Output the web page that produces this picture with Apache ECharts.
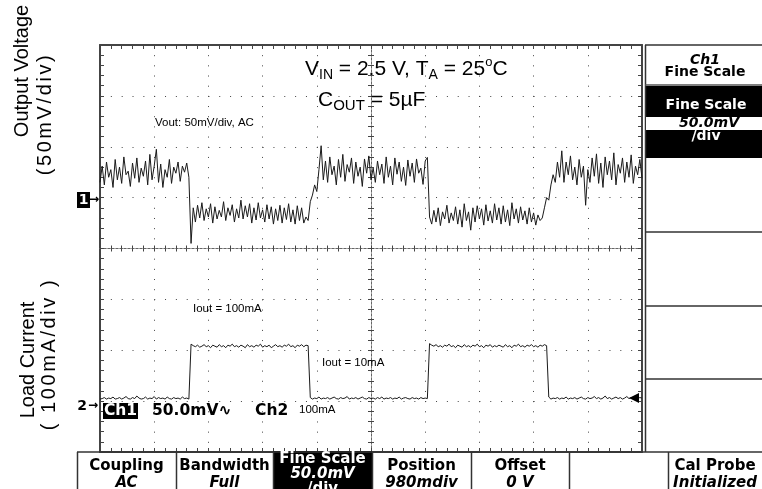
<!DOCTYPE html>
<html><head><meta charset="utf-8">
<script src="https://cdn.jsdelivr.net/npm/echarts@6/dist/echarts.min.js"></script>
<style>html,body{margin:0;padding:0;background:#fff}#c{width:762px;height:489px}</style>
</head><body><div id="c"></div><script>
// Oscilloscope screen: 10 horizontal divisions, 8 vertical divisions (centre = 0 div)
const TIME_STEP_DIV = 0.04;   // sample spacing, in horizontal divisions
const X_DIVS = [0, 10];
const Y_DIVS = [-4, 4];

// Channel 1: output voltage (AC coupled, 50 mV/div), in divisions
const voltageTrace = [
  1.30,1.62,1.25,1.70,1.40,1.55,1.20,1.75,1.35,1.60,
  1.28,1.80,1.45,1.52,1.22,1.68,1.38,1.78,1.30,1.58,
  1.42,1.72,1.25,1.85,1.35,1.62,1.95,1.30,1.66,1.20,
  1.55,1.40,1.75,1.28,1.60,1.48,1.70,1.32,1.62,1.50,
  1.68,1.40,
  0.10,
  0.80,0.52,0.85,0.60,0.90,0.55,0.78,0.62,0.88,0.50,
  0.82,0.58,0.75,0.62,0.92,0.55,0.80,0.65,0.86,0.52,
  0.78,0.60,0.95,0.58,0.84,0.62,0.88,0.50,0.80,0.56,
  0.90,0.60,0.76,0.52,0.86,0.58,0.82,0.48,0.78,0.55,
  0.85,0.50,0.80,0.57,0.88,0.52,0.76,0.48,0.84,0.55,
  0.80,0.50,0.62,0.55,
  0.92,1.05,1.25,1.12,1.55,2.02,
  1.35,1.72,1.30,1.80,1.45,1.62,1.25,1.75,1.40,1.85,
  1.32,1.65,1.50,1.78,1.28,1.70,1.42,1.60,1.22,1.76,
  1.48,1.82,1.35,1.58,1.30,1.72,1.45,1.66,1.28,1.80,
  1.40,1.62,1.25,1.78,1.46,1.70,1.32,1.60,1.24,1.74,
  1.42,1.68,1.30,1.76,1.48,1.58,1.26,1.72,1.79,
  0.62,
  0.48,0.75,0.52,0.80,0.45,0.72,0.58,0.85,0.50,0.70,
  0.55,0.82,0.48,0.76,0.42,0.88,0.55,0.72,0.36,0.80,
  0.52,0.84,0.58,0.78,0.46,0.86,0.54,0.74,0.50,0.88,
  0.56,0.80,0.48,0.84,0.52,0.76,0.45,0.90,0.58,0.78,
  0.50,0.82,0.56,0.74,0.48,0.80,0.52,0.70,0.46,0.66,
  0.55,0.60,
  0.80,1.00,0.95,1.25,1.45,1.30,1.70,1.40,1.92,
  1.30,1.70,1.45,1.82,1.35,1.60,1.25,1.75,1.40,1.62,
  0.85,1.55,1.30,1.78,1.42,1.86,1.28,1.68,1.20,1.80,
  1.45,1.72,1.35,1.88,1.25,1.65,1.48,1.78,1.30,1.70,
  1.40,1.84,1.28,1.62,1.45,1.75,1.38
];

// Channel 2: load current (100 mA/div), in divisions
const currentTrace = [
  -2.96,-2.95,-2.93,-2.96,-2.94,-2.95,-2.92,-2.96,-2.95,-2.93,
  -2.96,-2.94,-2.91,-2.95,-2.96,-2.93,-2.95,-2.90,-2.94,-2.96,
  -2.95,-2.92,-2.96,-2.94,-2.95,-2.91,-2.96,-2.93,-2.95,-2.94,
  -2.96,-2.92,-2.95,-2.96,-2.93,-2.95,-2.94,-2.96,-2.92,-2.95,
  -2.94,-2.96,
  -1.88,-1.91,-1.93,-1.90,-1.94,-1.92,-1.89,-1.93,-1.91,-1.95,
  -1.90,-1.92,-1.94,-1.89,-1.93,-1.91,-1.95,-1.90,-1.92,-1.88,
  -1.93,-1.91,-1.94,-1.90,-1.92,-1.95,-1.89,-1.93,-1.91,-1.94,
  -1.90,-1.92,-1.88,-1.94,-1.91,-1.93,-1.90,-1.95,-1.92,-1.89,
  -1.93,-1.91,-1.94,-1.90,-1.92,-1.88,-1.93,-1.91,-1.95,-1.90,
  -1.92,-1.89,-1.93,-1.90,-1.91,
  -2.93,-2.96,-2.94,-2.95,-2.92,-2.96,-2.94,-2.95,-2.93,-2.96,
  -2.94,-2.92,-2.95,-2.96,-2.93,-2.95,-2.94,-2.91,-2.96,-2.94,
  -2.95,-2.93,-2.96,-2.94,-2.92,-2.95,-2.96,-2.93,-2.95,-2.94,
  -2.96,-2.93,-2.95,-2.92,-2.96,-2.94,-2.95,-2.93,-2.96,-2.94,
  -2.95,-2.92,-2.96,-2.94,-2.93,-2.95,-2.96,-2.93,-2.95,-2.94,
  -2.96,-2.93,-2.95,-2.94,-2.95,
  -1.87,-1.90,-1.92,-1.89,-1.93,-1.91,-1.94,-1.90,-1.92,-1.88,
  -1.93,-1.91,-1.95,-1.90,-1.92,-1.94,-1.89,-1.93,-1.91,-1.94,
  -1.90,-1.92,-1.88,-1.93,-1.91,-1.95,-1.90,-1.92,-1.89,-1.94,
  -1.91,-1.93,-1.90,-1.92,-1.94,-1.89,-1.93,-1.91,-1.95,-1.90,
  -1.92,-1.88,-1.93,-1.91,-1.94,-1.90,-1.92,-1.89,-1.93,-1.91,
  -1.94,-1.90,-1.92,-1.89,-1.91,
  -2.92,-2.96,-2.94,-2.95,-2.93,-2.96,-2.94,-2.95,-2.92,-2.96,
  -2.94,-2.95,-2.93,-2.96,-2.94,-2.92,-2.95,-2.96,-2.93,-2.95,
  -2.94,-2.91,-2.95,-2.93,-2.96,-2.94,-2.90,-2.95,-2.93,-2.96,
  -2.94,-2.92,-2.95,-2.93,-2.96,-2.94,-2.91,-2.95,-2.93,-2.96,
  -2.94,-2.95,-2.93,-2.94
];

// Texts
const axisTitles = ['Output Voltage', '(50mV/div)', 'Load Current', '( 100mA/div )'];
const plotNotes = ['Vout: 50mV/div, AC', 'Iout = 100mA', 'Iout = 10mA'];
const statusRow = ['Ch1', '50.0mV\u223F', 'Ch2', '100mA'];
const sideMenu = ['Ch1', 'Fine Scale', 'Fine Scale', '50.0mV', '/div'];
const bottomMenu = [['Coupling','AC'], ['Bandwidth','Full'], ['Fine Scale','50.0mV','/div'],
                    ['Position','980mdiv'], ['Offset','0 V'], ['',''], ['Cal Probe','Initialized']];

const toPairs = arr => arr.map((v, i) => [+(i * TIME_STEP_DIV).toFixed(2), v]);

const SANS = "'Liberation Sans', Arial, sans-serif";
const SCOPE = "'DejaVu Sans', sans-serif";

function txt(x, y, text, font, o) {
  o = o || {};
  const align = o.align || 'center', va = o.va || 'middle';
  return { type: 'text', x: x, y: y, rotation: o.rotation || 0, silent: true, z: o.z || 20,
    style: Object.assign({ text: text, font: font, fill: o.fill || '#000',
      align: align, verticalAlign: va, textAlign: align, textVerticalAlign: va }, o.style || {}) };
}
// letter-spaced text via rich tokens (each character padded on the right)
function spacedTxt(x, y, text, size, gap, rotation) {
  const esc = ch => ch === '}' ? '\uFF5D' : ch;
  const body = text.split('').map(ch => '{c|' + esc(ch) + '}').join('');
  return { type: 'text', x: x, y: y, rotation: rotation || 0, silent: true, z: 20,
    style: { text: body, align: 'center', verticalAlign: 'middle', textAlign: 'center', textVerticalAlign: 'middle',
      rich: { c: { fontFamily: SANS, fontSize: size, fill: '#000', padding: [0, gap, 0, 0] } } } };
}
function rect(x, y, w, h, fill, stroke, z) {
  return { type: 'rect', silent: true, z: z || 15, shape: { x: x, y: y, width: w, height: h },
    style: { fill: fill, stroke: stroke || null, lineWidth: stroke ? 1.5 : 0 } };
}
function line(x1, y1, x2, y2, w, c) {
  return { type: 'line', silent: true, z: 16, shape: { x1: x1, y1: y1, x2: x2, y2: y2 },
    style: { stroke: c || '#333', lineWidth: w || 1.5 } };
}

const G = [];
// left axis titles (rotated)
G.push(txt(22, 71, axisTitles[0], '20px ' + SANS, { rotation: Math.PI / 2 }));
G.push(spacedTxt(45, 114, axisTitles[1], 20, 2.6, Math.PI / 2));
G.push(txt(28, 360, axisTitles[2], '20px ' + SANS, { rotation: Math.PI / 2 }));
G.push(spacedTxt(49, 354, axisTitles[3], 20, 2.6, Math.PI / 2));

// condition text with sub/superscripts
G.push({ type: 'text', x: 305, y: 56, silent: true, z: 20, style: {
  text: '{m|V}{s|IN}{m| = 2.5 V, T}{s|A}{m| = 25}{p|o}{m|C}', align: 'left', verticalAlign: 'top',
  textAlign: 'left', textVerticalAlign: 'top',
  rich: { m: { fontFamily: SANS, fontSize: 21, lineHeight: 26, fill: '#000' },
          s: { fontFamily: SANS, fontSize: 14, lineHeight: 17, verticalAlign: 'bottom', fill: '#000' },
          p: { fontFamily: SANS, fontSize: 13, lineHeight: 18, verticalAlign: 'top', fill: '#000' } } } });
G.push({ type: 'text', x: 318, y: 87, silent: true, z: 20, style: {
  text: '{m|C}{s|OUT}{m| = 5\u00B5F}', align: 'left', verticalAlign: 'top',
  textAlign: 'left', textVerticalAlign: 'top',
  rich: { m: { fontFamily: SANS, fontSize: 21, lineHeight: 26, fill: '#000' },
          s: { fontFamily: SANS, fontSize: 15, lineHeight: 17, verticalAlign: 'bottom', fill: '#000' } } } });

// small notes in plot
G.push(txt(155, 123, plotNotes[0], '11.5px ' + SANS, { align: 'left' }));
G.push(txt(193, 309, plotNotes[1], '11.5px ' + SANS, { align: 'left' }));
G.push(txt(322, 363, plotNotes[2], '11.5px ' + SANS, { align: 'left' }));

// status row
G.push(rect(103, 403, 35, 16, '#000'));
G.push(txt(120.5, 411, statusRow[0], 'bold 15.5px ' + SCOPE, { fill: '#fff', z: 21 }));
G.push(txt(152, 411, statusRow[1], 'bold 15.5px ' + SCOPE, { align: 'left' }));
G.push(txt(255, 411, statusRow[2], 'bold 15.5px ' + SCOPE, { align: 'left' }));
G.push(txt(299, 410, statusRow[3], '11.5px ' + SANS, { align: 'left' }));

// channel ground markers
G.push(rect(77, 192, 13, 16, '#000'));
G.push(txt(83.5, 200, '1', 'bold 14px ' + SCOPE, { fill: '#fff', z: 21 }));
G.push(txt(94, 200, '\u2192', 'bold 12px ' + SCOPE));
G.push(txt(82, 406, '2', 'bold 14px ' + SCOPE));
G.push(txt(93, 406, '\u2192', 'bold 12px ' + SCOPE));
// trigger level marker
G.push({ type: 'polygon', silent: true, z: 20, shape: { points: [[629, 398], [639, 393], [639, 403]] }, style: { fill: '#000' } });

// right side menu
G.push(line(645.5, 45, 645.5, 452, 1.5));
G.push(line(645, 45, 762, 45, 1.5));
G.push(line(645, 85, 762, 85, 1.5, '#555'));
G.push(txt(705, 60, sideMenu[0], 'italic bold 14px ' + SCOPE));
G.push(txt(705, 72.5, sideMenu[1], 'bold 14px ' + SCOPE));
G.push(rect(646, 86, 116, 72, '#000'));
G.push(rect(646, 117, 116, 13, '#fff', null, 16));
G.push(txt(706, 105, sideMenu[2], 'bold 14px ' + SCOPE, { fill: '#fff', z: 21 }));
G.push(txt(709, 123.5, sideMenu[3], 'italic bold 14px ' + SCOPE, { z: 21 }));
G.push(txt(706, 136, sideMenu[4], 'bold 14px ' + SCOPE, { fill: '#fff', z: 21 }));
G.push(line(645, 232, 762, 232, 1.5));
G.push(line(645, 306, 762, 306, 1.5));
G.push(line(645, 379, 762, 379, 1.5));

// bottom menu buttons
const btnEdges = [77, 176, 273, 372, 471, 569, 668, 762];
G.push(line(77, 452, 762, 452, 1.5));
for (let k = 0; k < bottomMenu.length; k++) {
  const x0 = btnEdges[k], x1 = btnEdges[k + 1], cx = (x0 + x1) / 2;
  const inv = bottomMenu[k].length === 3;
  if (inv) G.push(rect(x0, 451, x1 - x0, 38, '#000'));
  G.push(line(x0 + 0.5, 452, x0 + 0.5, 489, 1.5));
  const fc = inv ? '#fff' : '#000';
  if (bottomMenu[k][0]) {
    G.push(txt(cx, inv ? 459 : 466, bottomMenu[k][0], 'bold 15px ' + SCOPE, { fill: fc, z: 21 }));
    G.push(txt(cx, inv ? 474 : 483, bottomMenu[k][1], 'italic bold 15px ' + SCOPE, { fill: fc, z: 21 }));
    if (inv) G.push(txt(cx, 489, bottomMenu[k][2], 'bold 15px ' + SCOPE, { fill: fc, z: 21 }));
  }
}

const tickStyle = { color: '#444', width: 1 };
function borderX(pos, split) {
  return { type: 'value', min: X_DIVS[0], max: X_DIVS[1], interval: 1, position: pos,
    axisLine: { show: true, onZero: false, lineStyle: { color: '#444', width: 2 } },
    axisTick: { show: true, inside: true, length: 4, lineStyle: tickStyle },
    minorTick: { show: true, splitNumber: 5, length: 4, lineStyle: tickStyle },
    axisLabel: { show: false },
    splitLine: { show: split, lineStyle: { color: '#444', width: 1, type: [1, 9.175] } },
    minorSplitLine: { show: false } };
}
function borderY(pos, split) {
  return { type: 'value', min: Y_DIVS[0], max: Y_DIVS[1], interval: 1, position: pos,
    axisLine: { show: true, onZero: false, lineStyle: { color: '#444', width: 2 } },
    axisTick: { show: true, inside: true, length: 4, lineStyle: tickStyle },
    minorTick: { show: true, splitNumber: 5, length: 4, lineStyle: tickStyle },
    axisLabel: { show: false },
    splitLine: { show: split, lineStyle: { color: '#444', width: 1, type: [1, 9.84] } },
    minorSplitLine: { show: false } };
}
function centreX(inside) {
  return { type: 'value', min: X_DIVS[0], max: X_DIVS[1], interval: 1, position: 'bottom',
    axisLine: { show: true, onZero: true, onZeroAxisIndex: 0, lineStyle: { color: '#666', width: 1, type: [2, 2] } },
    axisTick: { show: true, inside: inside, length: 3, lineStyle: tickStyle },
    minorTick: { show: true, splitNumber: 5, length: 3, lineStyle: tickStyle },
    axisLabel: { show: false }, splitLine: { show: false } };
}
function centreY(inside) {
  return { type: 'value', min: Y_DIVS[0], max: Y_DIVS[1], interval: 1, position: 'left',
    axisLine: { show: true, onZero: true, onZeroAxisIndex: 4, lineStyle: { color: '#666', width: 1, type: [2, 2] } },
    axisTick: { show: true, inside: inside, length: 3, lineStyle: tickStyle },
    minorTick: { show: true, splitNumber: 5, length: 3, lineStyle: tickStyle },
    axisLabel: { show: false }, splitLine: { show: false } };
}

const chart = echarts.init(document.getElementById('c'), null, { renderer: 'canvas' });
chart.setOption({
  animation: false,
  backgroundColor: '#fff',
  grid: { left: 100, top: 45, width: 542, height: 407, containLabel: false, outerBoundsMode: 'none' },
  xAxis: [
    borderX('bottom', true), borderX('top', false), centreX(true), centreX(false),
    { type: 'value', min: -5, max: 5, show: false }
  ],
  yAxis: [ borderY('left', true), borderY('right', false), centreY(true), centreY(false) ],
  series: [
    { name: 'Output Voltage', type: 'line', xAxisIndex: 0, yAxisIndex: 0, data: toPairs(voltageTrace),
      showSymbol: false, symbol: 'none', lineStyle: { color: '#1a1a1a', width: 1 }, z: 5 },
    { name: 'Load Current', type: 'line', xAxisIndex: 0, yAxisIndex: 0, data: toPairs(currentTrace),
      showSymbol: false, symbol: 'none', lineStyle: { color: '#1a1a1a', width: 1 }, z: 5 }
  ],
  graphic: { elements: G }
});
</script></body></html>
